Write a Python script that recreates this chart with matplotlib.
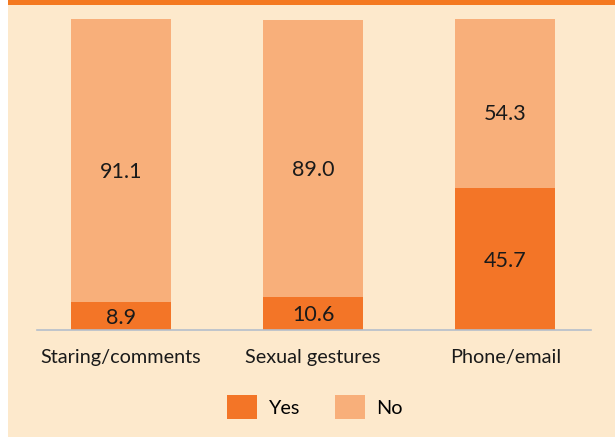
import matplotlib.pyplot as plt
from matplotlib.patches import Rectangle, Patch

categories = ["Staring/comments", "Sexual gestures", "Phone/email"]
yes_values = [8.9, 10.6, 45.7]
no_values = [91.1, 89.0, 54.3]

ORANGE = "#F37527"
LIGHT = "#F8AF7A"
BG = "#FDE9CC"
FS = 14.3

plt.rcParams["font.family"] = ["Lato", "DejaVu Sans"]

fig = plt.figure(figsize=(6.15, 4.37), dpi=100)
fig.patches.append(Rectangle((8 / 615, 0), 1, 1, transform=fig.transFigure,
                             facecolor=BG, edgecolor="none", zorder=-2))
fig.patches.append(Rectangle((8 / 615, 1 - 4.7 / 437), 1, 1, transform=fig.transFigure,
                             facecolor="#F47920", edgecolor="none", zorder=-1))

ax = fig.add_axes([37 / 615, 1 - 329.5 / 437, 554 / 615, 310.5 / 437])
ax.set_facecolor("none")

x = range(len(categories))
ax.bar(x, yes_values, width=0.52, color=ORANGE, zorder=2)
ax.bar(x, no_values, width=0.52, bottom=yes_values, color=LIGHT, zorder=2)

# value labels inside each segment
for i, (y, n) in enumerate(zip(yes_values, no_values)):
    ax.annotate(f"{y:.1f}", (i, y / 2), xytext=(0, -1.5), textcoords="offset points",
                ha="center", va="center", fontsize=15.5, color="#1a1a1a")
    ax.annotate(f"{n:.1f}", (i, y + n / 2), xytext=(0, -8), textcoords="offset points",
                ha="center", va="center", fontsize=15.5, color="#1a1a1a")

ax.set_xlim(-0.437, 2.445)
ax.set_ylim(0, 100)
ax.set_xticks(list(x))
ax.set_xticklabels(categories, fontsize=FS, color="#1a1a1a")
ax.tick_params(axis="x", length=0, pad=14)
ax.set_yticks([])
for s in ["top", "left", "right"]:
    ax.spines[s].set_visible(False)
ax.spines["bottom"].set_color("#B4BECB")
ax.spines["bottom"].set_linewidth(1.2)

handles = [Patch(facecolor=ORANGE, label="Yes"), Patch(facecolor=LIGHT, label="No")]
fig.legend(handles=handles, loc="center", bbox_to_anchor=(0.512, 0.0686), ncol=2,
           frameon=False, fontsize=FS, handlelength=1.52, handleheight=1.52,
           handletextpad=0.56, columnspacing=1.75, borderpad=0)

fig.savefig("out.png", dpi=100)
